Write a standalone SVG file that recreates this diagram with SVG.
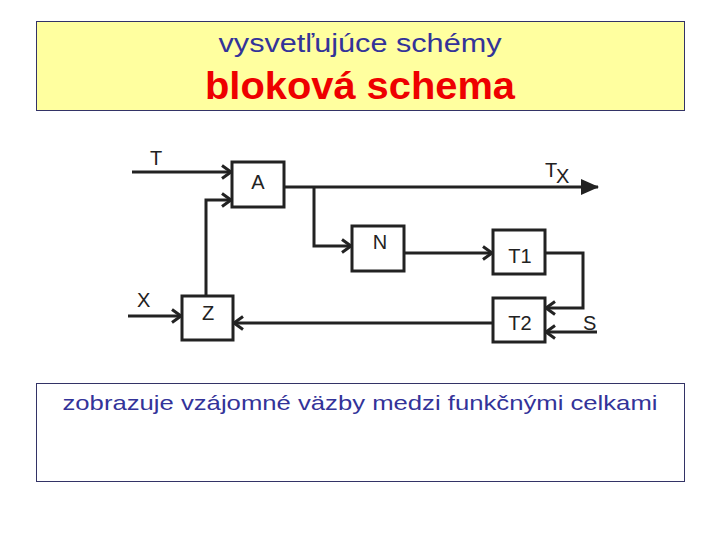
<svg xmlns="http://www.w3.org/2000/svg" width="720" height="540" viewBox="0 0 720 540">
<style>
.box{fill:#fff;stroke:#222;stroke-width:3}
.ln{fill:none;stroke:#222;stroke-width:3}
.lbl{font-family:"Liberation Sans",Arial,sans-serif;font-size:20px;fill:#222}
.hd{font-family:"Liberation Sans",Arial,sans-serif;fill:#333399}
</style>
<defs>
<marker id="v" markerWidth="14" markerHeight="16" refX="11" refY="8" orient="auto" markerUnits="userSpaceOnUse">
<path d="M2,1.5 L11,8 L2,14.5" fill="none" stroke="#222" stroke-width="3"/>
</marker>
<marker id="tri" markerWidth="20" markerHeight="18" refX="17" refY="9" orient="auto" markerUnits="userSpaceOnUse">
<path d="M0,1 L18,9 L0,17 Z" fill="#222"/>
</marker>
</defs>
<rect width="720" height="540" fill="#fff"/>
<g id="header">
<rect x="36.5" y="21.5" width="648" height="89" fill="#FFFF9F" stroke="#333366" stroke-width="1"/>
<text class="hd" x="360" y="52" text-anchor="middle" font-size="25" textLength="283" lengthAdjust="spacingAndGlyphs">vysvetľujúce schémy</text>
<text x="360" y="99" text-anchor="middle" font-family="'Liberation Sans',Arial,sans-serif" font-size="38" font-weight="bold" fill="#EE0000" textLength="310" lengthAdjust="spacingAndGlyphs">bloková schema</text>
</g>
<g id="footer">
<rect x="36.5" y="383.5" width="648" height="98" fill="#fff" stroke="#333366" stroke-width="1"/>
<text class="hd" x="360" y="410" text-anchor="middle" font-size="21" textLength="595" lengthAdjust="spacingAndGlyphs">zobrazuje vzájomné väzby medzi funkčnými celkami</text>
</g>
<g id="connectors">
<path class="ln" d="M132,172 H231" marker-end="url(#v)"/>
<path class="ln" d="M206,296 V200 H231" marker-end="url(#v)"/>
<path class="ln" d="M284,187 H598" marker-end="url(#tri)"/>
<path class="ln" d="M314,187 V246 H351" marker-end="url(#v)"/>
<path class="ln" d="M404,253 H492" marker-end="url(#v)"/>
<path class="ln" d="M545,253 H583 V308 H546" marker-end="url(#v)"/>
<path class="ln" d="M597,332 H546" marker-end="url(#v)"/>
<path class="ln" d="M493,323 H234" marker-end="url(#v)"/>
<path class="ln" d="M128,316 H181" marker-end="url(#v)"/>
<text class="lbl" x="150" y="165">T</text>
<text class="lbl" x="545" y="177">T</text>
<text class="lbl" x="556" y="183" font-size="16">X</text>
<text class="lbl" x="137" y="307">X</text>
<text class="lbl" x="583" y="330">S</text>
</g>
<g id="A"><rect class="box" x="232" y="162" width="52" height="45"/><text class="lbl" x="258" y="189" text-anchor="middle">A</text></g>
<g id="N"><rect class="box" x="352" y="226" width="52" height="45"/><text class="lbl" x="380" y="249" text-anchor="middle">N</text></g>
<g id="T1"><rect class="box" x="493" y="230" width="52" height="44"/><text class="lbl" x="520" y="263" text-anchor="middle">T1</text></g>
<g id="T2"><rect class="box" x="493" y="298" width="52" height="44"/><text class="lbl" x="520" y="330" text-anchor="middle">T2</text></g>
<g id="Z"><rect class="box" x="182" y="296" width="51" height="44"/><text class="lbl" x="208" y="320" text-anchor="middle">Z</text></g>
</svg>
